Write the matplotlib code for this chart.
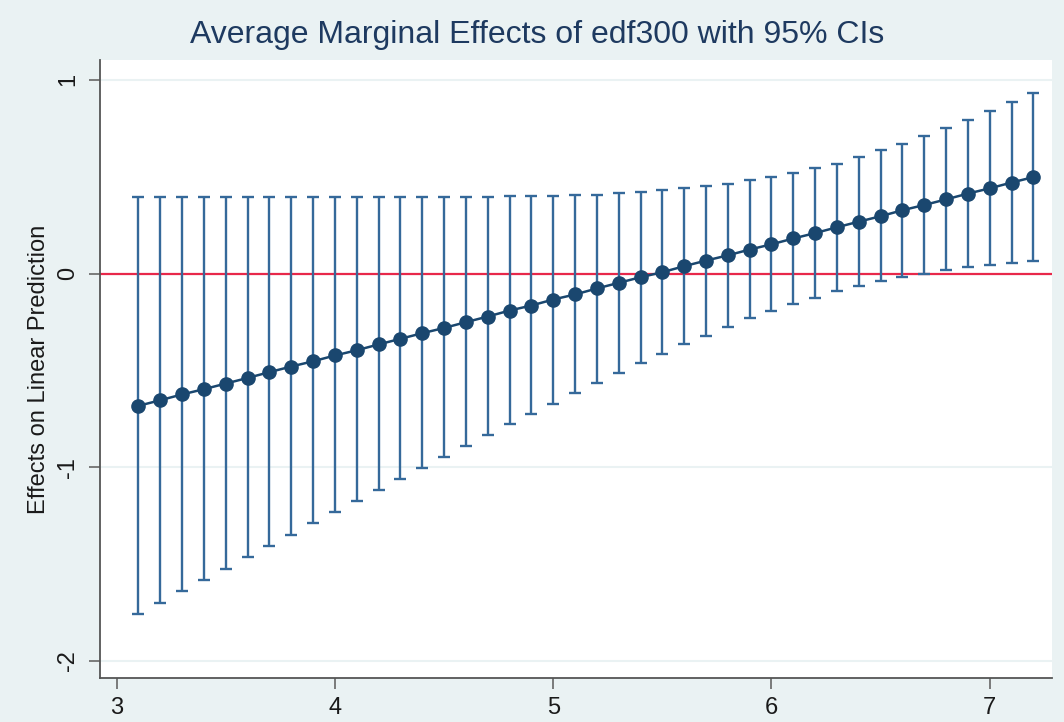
import matplotlib
matplotlib.use("Agg")
import matplotlib.pyplot as plt
import numpy as np

# ---- data ----
x_values = [3.1, 3.2, 3.3, 3.4, 3.5, 3.6, 3.7, 3.8, 3.9, 4.0,
            4.1, 4.2, 4.3, 4.4, 4.5, 4.6, 4.7, 4.8, 4.9, 5.0,
            5.1, 5.2, 5.3, 5.4, 5.5, 5.6, 5.7, 5.8, 5.9, 6.0,
            6.1, 6.2, 6.3, 6.4, 6.5, 6.6, 6.7, 6.8, 6.9, 7.0,
            7.1, 7.2]
effects = [-0.683, -0.654, -0.624, -0.597, -0.568, -0.539, -0.509, -0.480, -0.453, -0.423,
           -0.396, -0.366, -0.337, -0.308, -0.281, -0.251, -0.222, -0.191, -0.165, -0.134,
           -0.108, -0.077, -0.048, -0.019, 0.007, 0.038, 0.067, 0.094, 0.124, 0.151,
           0.181, 0.209, 0.239, 0.268, 0.296, 0.327, 0.354, 0.383, 0.413, 0.440,
           0.470, 0.498]
upper_ci = [0.395, 0.395, 0.395, 0.395, 0.395, 0.395, 0.395, 0.395, 0.395, 0.395,
            0.395, 0.395, 0.395, 0.395, 0.395, 0.396, 0.397, 0.398, 0.398, 0.400,
            0.404, 0.408, 0.416, 0.421, 0.430, 0.442, 0.452, 0.462, 0.483, 0.498,
            0.521, 0.543, 0.568, 0.602, 0.636, 0.671, 0.709, 0.750, 0.795, 0.839,
            0.886, 0.934]
lower_ci = [-1.758, -1.700, -1.641, -1.583, -1.524, -1.466, -1.407, -1.349, -1.290, -1.232,
            -1.173, -1.115, -1.060, -1.003, -0.946, -0.888, -0.831, -0.778, -0.724, -0.671,
            -0.618, -0.566, -0.513, -0.464, -0.413, -0.366, -0.320, -0.276, -0.232, -0.195,
            -0.158, -0.124, -0.091, -0.062, -0.040, -0.017, 0.000, 0.017, 0.034, 0.044,
            0.055, 0.063]
x_ticks = [3, 4, 5, 6, 7]
y_ticks = [1, 0, -1, -2]
title = "Average Marginal Effects of edf300 with 95% CIs"
y_label = "Effects on Linear Prediction"

# ---- style ----
BG = "#eaf2f3"
NAVY = "#1a476f"
CI_COLOR = "#35699a"
RED = "#e8284a"
plt.rcParams['font.family'] = ["Liberation Sans", "DejaVu Sans"]

fig = plt.figure(figsize=(10.64, 7.22), dpi=100, facecolor=BG)
ax = fig.add_axes([0.094, 0.061, 0.8947, 0.856])
ax.set_facecolor("white")

x = np.array(x_values)
y = np.array(effects)
lo = np.array(lower_ci)
hi = np.array(upper_ci)

# grid lines
for yt in y_ticks:
    ax.axhline(yt, color=BG, lw=1.5, zorder=0)

# zero reference line
ax.axhline(0, color=RED, lw=1.6, zorder=1)

# CIs
ax.errorbar(x, y, yerr=[y - lo, hi - y], fmt='none', ecolor=CI_COLOR,
            elinewidth=1.7, capsize=4.3, capthick=1.7, zorder=2)
# connected points
ax.plot(x, y, color=NAVY, lw=1.8, marker='o', markersize=9.5,
        markerfacecolor=NAVY, markeredgecolor=NAVY, zorder=3)

ax.set_xlim(2.924, 7.285)
ax.set_ylim(-2.088, 1.103)
ax.set_xticks(x_ticks)
ax.set_yticks(y_ticks)
ax.set_yticklabels([str(v) for v in y_ticks], rotation=90, va='center')
ax.tick_params(axis='both', direction='out', length=8, width=1.2, color="#666666",
               labelsize=17, labelcolor="#1a1a1a")
ax.tick_params(axis='x', pad=6)
ax.tick_params(axis='y', pad=7)

for side in ['top', 'right']:
    ax.spines[side].set_visible(False)
for side in ['left', 'bottom']:
    ax.spines[side].set_color("#555555")
    ax.spines[side].set_linewidth(1.3)

ax.set_ylabel(y_label, fontsize=17, color="#1a1a1a", labelpad=5)
fig.text(0.505, 1 - 43.5 / 722, title, ha='center', va='baseline',
         fontsize=23, color="#1e3a60")

fig.savefig("out.png", dpi=100, facecolor=BG)
